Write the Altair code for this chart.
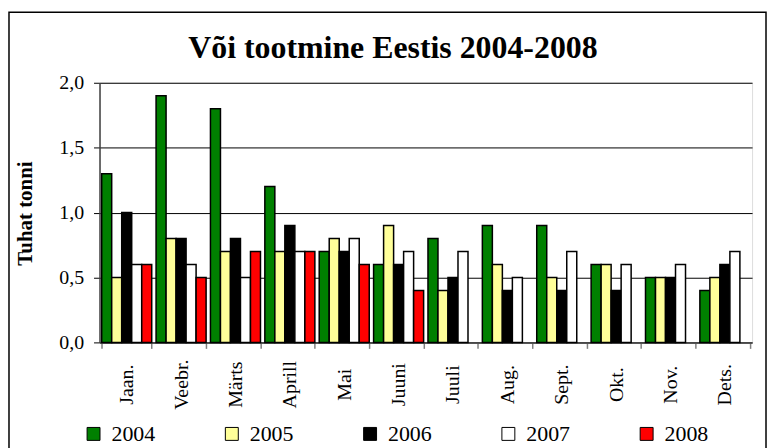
import altair as alt
import pandas as pd

months = ["Jaan.", "Veebr.", "Märts", "Aprill", "Mai", "Juuni",
          "Juuli", "Aug.", "Sept.", "Okt.", "Nov.", "Dets."]
years = ["2004", "2005", "2006", "2007", "2008"]
colors = ["#008000", "#FFFF99", "#000000", "#FFFFFF", "#FF0000"]

v2004 = [1.3, 1.9, 1.8, 1.2, 0.7, 0.6, 0.8, 0.9, 0.9, 0.6, 0.5, 0.4]
v2005 = [0.5, 0.8, 0.7, 0.7, 0.8, 0.9, 0.4, 0.6, 0.5, 0.6, 0.5, 0.5]
v2006 = [1.0, 0.8, 0.8, 0.9, 0.7, 0.6, 0.5, 0.4, 0.4, 0.4, 0.5, 0.6]
v2007 = [0.6, 0.6, 0.5, 0.7, 0.8, 0.7, 0.7, 0.5, 0.7, 0.6, 0.6, 0.7]
v2008 = [0.6, 0.5, 0.7, 0.7, 0.6, 0.4, None, None, None, None, None, None]

series = {"2004": v2004, "2005": v2005, "2006": v2006, "2007": v2007, "2008": v2008}
rows = []
for y, vals in series.items():
    for m, v in zip(months, vals):
        if v is not None:
            rows.append({"month": m, "year": y, "value": v})
df = pd.DataFrame(rows)

SERIF = "Liberation Serif"

bars = alt.Chart(df).mark_bar(stroke="black", strokeWidth=1.5).encode(
    x=alt.X("month:N", sort=months, title=None,
            scale=alt.Scale(paddingInner=0.08, paddingOuter=0.04),
            axis=alt.Axis(labelAngle=-90, labelAlign="center", labelBaseline="middle",
                          labelPadding=36, tickSize=6, tickBand="extent",
                          tickColor="#808080", tickWidth=1.5,
                          domainColor="#404040", domainWidth=1.5,
                          labelFont=SERIF, labelFontSize=20, labelColor="black",
                          labelOverlap=False, labelLimit=200)),
    xOffset=alt.XOffset("year:N", scale=alt.Scale(domain=years, paddingInner=0, paddingOuter=0)),
    y=alt.Y("value:Q", scale=alt.Scale(domain=[0, 2]),
            axis=alt.Axis(values=[0, 0.5, 1, 1.5, 2],
                          labelExpr="replace(format(datum.value, '.1f'), '.', ',')",
                          labelFont=SERIF, labelFontSize=20, labelColor="black",
                          labelPadding=10, tickSize=6, tickColor="black", tickWidth=1,
                          domainColor="#404040", domainWidth=1.5,
                          grid=True, gridColor="black", gridWidth=1,
                          title="Tuhat tonni", titleFont=SERIF, titleFontSize=21,
                          titleFontWeight="bold", titleColor="black", titleAngle=-90,
                          titleX=-68, titleY=131, titleAlign="center",
                          titleBaseline="alphabetic")),
    color=alt.Color("year:N", scale=alt.Scale(domain=years, range=colors),
                    legend=alt.Legend(title=None, orient="none", legendX=-17, legendY=342,
                                      direction="horizontal", columns=5, columnPadding=66,
                                      symbolType="square", symbolSize=169,
                                      symbolStrokeColor="black", symbolStrokeWidth=1,
                                      labelFont=SERIF, labelFontSize=22, labelColor="black",
                                      labelOffset=7, padding=0)),
)

frame = alt.Chart(alt.Data(values=[{}])).mark_rect(
    fillOpacity=0, stroke="black", strokeWidth=1.5
).encode(
    x=alt.value(-91), x2=alt.value(670),
    y=alt.value(-71), y2=alt.value(420),
)

chart = alt.layer(frame, bars).properties(
    width=656, height=261,
    title=alt.TitleParams("Või tootmine Eestis 2004-2008", font=SERIF, fontSize=32,
                          fontWeight="bold", color="black", anchor="middle", dx=-33,
                          offset=-54, frame="group"),
    autosize=alt.AutoSizeParams(type="none"),
    padding={"left": 92, "top": 74, "right": 15, "bottom": 105},
).configure_view(stroke="#808080", strokeWidth=1.5).configure(background="white")

chart.save("out.html", embed_options={"renderer": "svg", "actions": False})
